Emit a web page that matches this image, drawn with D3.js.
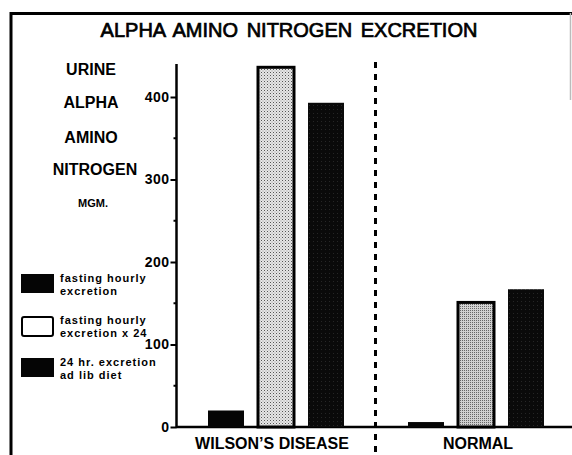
<!DOCTYPE html>
<html>
<head>
<meta charset="utf-8">
<script src="https://cdn.jsdelivr.net/npm/d3@7"></script>
<style>
  body { margin: 0; background: #fff; }
  svg { display: block; }
  text { font-family: "Liberation Sans", Arial, sans-serif; fill: #000; }
</style>
</head>
<body>
<div id="chart"></div>
<script>
// data
var groups = ["WILSON\u2019S DISEASE", "NORMAL"];
var seriesNames = ["fastingHourly", "fastingX24", "dayAdLib"];
var fastingHourly = [20, 6];
var fastingX24 = [436, 151];
var dayAdLib = [393, 167];
var yTicks = [0, 100, 200, 300, 400];
var yMinorTicks = [50, 150, 250, 350];
var yTitleLines = ["URINE", "ALPHA", "AMINO", "NITROGEN", "MGM."];
var legendLabels = [
    ["fasting hourly", "excretion"],
    ["fasting hourly", "excretion x 24"],
    ["24 hr. excretion", "ad lib diet"]
];

var w = 572, h = 455;

var svg = d3.select("#chart")
    .append("svg")
    .attr("width", w)
    .attr("height", h);

// stipple textures
var defs = svg.append("defs");
var light = defs.append("pattern")
    .attr("id", "stippleLight")
    .attr("width", 3).attr("height", 3)
    .attr("patternUnits", "userSpaceOnUse");
light.append("rect").attr("width", 3).attr("height", 3).attr("fill", "#e6e6e6");
light.append("rect").attr("width", 1).attr("height", 1).attr("fill", "#555");
light.append("rect").attr("x", 1.5).attr("y", 1.5).attr("width", 1).attr("height", 1).attr("fill", "#999");

var mid = defs.append("pattern")
    .attr("id", "stippleMid")
    .attr("width", 2).attr("height", 2)
    .attr("patternUnits", "userSpaceOnUse");
mid.append("rect").attr("width", 2).attr("height", 2).attr("fill", "#d0d0d0");
mid.append("rect").attr("width", 1).attr("height", 1).attr("fill", "#666");

var dark = defs.append("pattern")
    .attr("id", "darkFill")
    .attr("width", 4).attr("height", 4)
    .attr("patternUnits", "userSpaceOnUse");
dark.append("rect").attr("width", 4).attr("height", 4).attr("fill", "#0a0a0a");
dark.append("rect").attr("x", 1).attr("y", 1).attr("width", 1).attr("height", 1).attr("fill", "#262626");

// frame
svg.append("line")
    .attr("x1", 11).attr("x2", 11).attr("y1", 12).attr("y2", h)
    .attr("stroke", "#000").attr("stroke-width", 3);
svg.append("line")
    .attr("x1", 10).attr("x2", w).attr("y1", 13.5).attr("y2", 13.5)
    .attr("stroke", "#000").attr("stroke-width", 3);
svg.append("line")
    .attr("x1", 570.5).attr("x2", 570.5).attr("y1", 13).attr("y2", 100)
    .attr("stroke", "#bbb").attr("stroke-width", 1.5);

// title
svg.append("text")
    .attr("x", 289).attr("y", 36.5)
    .attr("text-anchor", "middle")
    .style("font-size", "20px")
    .style("word-spacing", "3px")
    .style("stroke", "#000")
    .style("stroke-width", 0.7)
    .text("ALPHA AMINO NITROGEN EXCRETION");

// scales
var x = d3.scaleBand()
    .domain(groups)
    .range([176, 576]);

var xInner = d3.scaleBand()
    .domain(seriesNames)
    .range([-68, 68])
    .paddingInner(0.28)
    .paddingOuter(0);

var y = d3.scaleLinear()
    .domain([0, 440])
    .range([427, 64]);

// y axis
var yAxis = d3.axisLeft(y)
    .tickValues(yTicks)
    .tickSize(6)
    .tickPadding(1)
    .tickFormat(d3.format("d"));

var gy = svg.append("g")
    .attr("transform", "translate(176.5,0)")
    .call(yAxis);
gy.select(".domain").attr("stroke-width", 2.5).attr("d", "M0," + y(440) + "V" + y(0));
gy.selectAll(".tick line").attr("stroke-width", 2);
gy.selectAll(".tick text")
    .style("font-family", "'Liberation Sans', Arial, sans-serif")
    .style("font-size", "14px")
    .style("font-weight", "bold")
    .style("letter-spacing", "0.5px");

svg.append("g")
    .selectAll("line")
    .data(yMinorTicks)
    .enter()
    .append("line")
    .attr("x1", 173.5).attr("x2", 176.5)
    .attr("y1", function(d) { return y(d); })
    .attr("y2", function(d) { return y(d); })
    .attr("stroke", "#000").attr("stroke-width", 2);

// baseline
svg.append("line")
    .attr("x1", 176).attr("x2", w)
    .attr("y1", y(0)).attr("y2", y(0))
    .attr("stroke", "#000").attr("stroke-width", 2.5);

// y title block
var yTitleY = [69, 102, 137, 169, 203];
svg.append("g")
    .selectAll("text")
    .data(yTitleLines)
    .enter()
    .append("text")
    .attr("x", function(d, i) { return i === 3 ? 95 : (i === 4 ? 93 : 91); })
    .attr("y", function(d, i) { return yTitleY[i]; })
    .attr("text-anchor", "middle")
    .attr("dominant-baseline", "central")
    .style("font-size", function(d, i) { return i === 4 ? "11px" : "16px"; })
    .style("font-weight", "bold")
    .text(function(d) { return d; });

// divider
svg.append("line")
    .attr("x1", x(groups[1]) - 0.5).attr("x2", x(groups[1]) - 0.5)
    .attr("y1", 62).attr("y2", h)
    .attr("stroke", "#000")
    .attr("stroke-width", 3)
    .attr("stroke-dasharray", "6,6");

// bars
var seriesData = [fastingHourly, fastingX24, dayAdLib];
var rows = [];
groups.forEach(function(g, gi) {
    seriesNames.forEach(function(s, si) {
        rows.push({ group: g, gi: gi, series: s, si: si, value: seriesData[si][gi] });
    });
});

function barFill(d) {
    if (d.si === 0) return "#050505";
    if (d.si === 2) return "url(#darkFill)";
    return d.gi === 0 ? "url(#stippleLight)" : "url(#stippleMid)";
}

svg.append("g")
    .selectAll("rect")
    .data(rows)
    .enter()
    .append("rect")
    .attr("x", function(d) { return x(d.group) + x.bandwidth() / 2 + xInner(d.series); })
    .attr("y", function(d) { return y(d.value); })
    .attr("width", xInner.bandwidth())
    .attr("height", function(d) { return y(0) - y(d.value); })
    .attr("fill", barFill)
    .attr("stroke", function(d) { return d.si === 1 ? "#000" : "none"; })
    .attr("stroke-width", 3);

// group labels
svg.append("g")
    .selectAll("text")
    .data(groups)
    .enter()
    .append("text")
    .attr("x", function(d, i) { return i === 0 ? 272 : 478; })
    .attr("y", 443)
    .attr("text-anchor", "middle")
    .attr("dominant-baseline", "central")
    .style("font-size", "16px")
    .style("font-weight", "bold")
    .text(function(d) { return d; });

// legend
var legendY = [274, 316, 358];
var legend = svg.append("g")
    .selectAll("g")
    .data(legendLabels)
    .enter()
    .append("g")
    .attr("transform", function(d, i) { return "translate(21," + legendY[i] + ")"; });

legend.append("rect")
    .attr("x", function(d, i) { return i === 1 ? 1 : 0; })
    .attr("y", function(d, i) { return i === 1 ? 1 : 0; })
    .attr("width", function(d, i) { return i === 1 ? 31 : 33; })
    .attr("height", 19)
    .attr("rx", function(d, i) { return i === 1 ? 2 : 0; })
    .attr("fill", function(d, i) { return i === 1 ? "#fff" : "#050505"; })
    .attr("stroke", function(d, i) { return i === 1 ? "#000" : "none"; })
    .attr("stroke-width", 2);

legend.append("text")
    .attr("x", 39)
    .attr("y", 7.5)
    .style("font-size", "11px")
    .style("font-weight", "bold")
    .style("letter-spacing", "1px")
    .text(function(d) { return d[0]; });

legend.append("text")
    .attr("x", 39)
    .attr("y", 20.5)
    .style("font-size", "11px")
    .style("font-weight", "bold")
    .style("letter-spacing", "1px")
    .text(function(d) { return d[1]; });
</script>
</body>
</html>
